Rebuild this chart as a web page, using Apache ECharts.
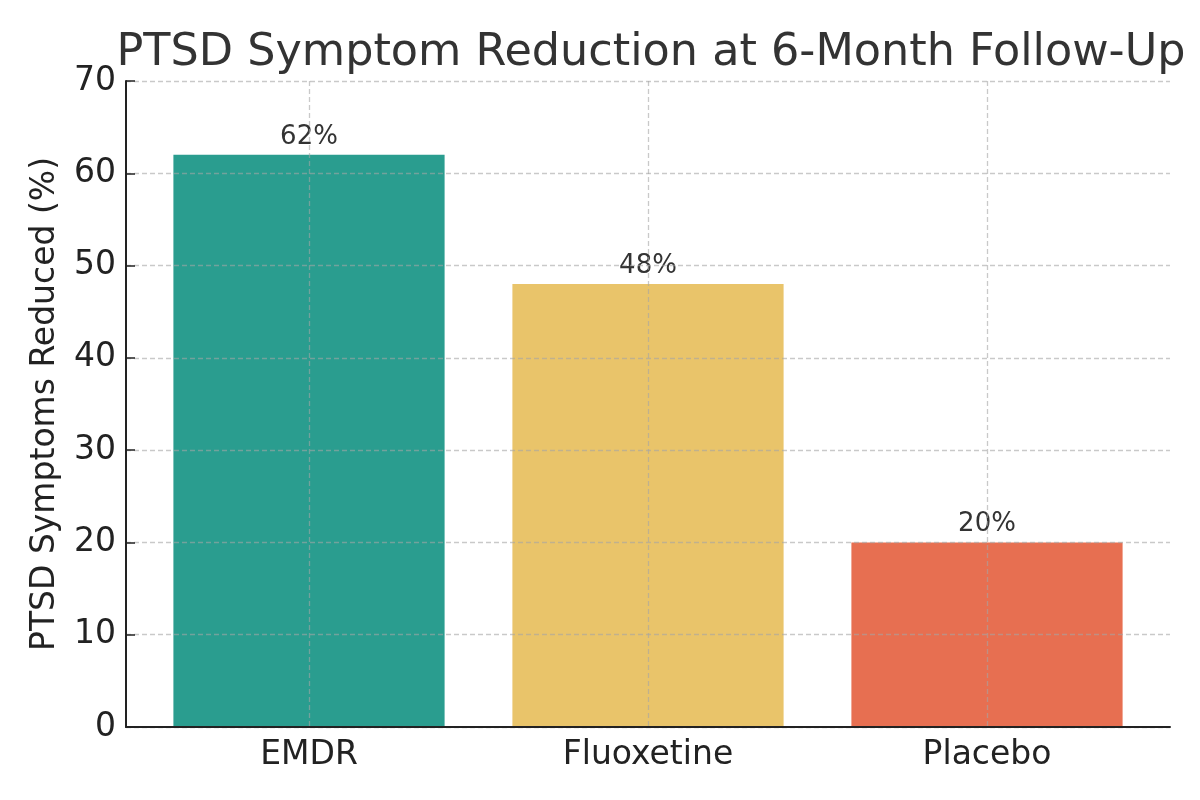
<!DOCTYPE html>
<html>
<head>
<meta charset="utf-8">
<script src="https://cdn.jsdelivr.net/npm/echarts@6/dist/echarts.min.js"></script>
<style>
  html, body { margin: 0; padding: 0; background: #fff; }
  #chart { width: 1200px; height: 800px; }
</style>
</head>
<body>
<div id="chart"></div>
<script>
const categories = ["EMDR", "Fluoxetine", "Placebo"];
const reduction = [62, 48, 20];
const yMin = 0;
const yMax = 70;
const yStep = 10;

const palette = ["#2a9d8f", "#e9c46a", "#e76f51"];
const gridLine = { color: "rgba(165,165,165,0.6)", width: 1.3, type: [5, 3] };
const font = "DejaVu Sans";

const chart = echarts.init(document.getElementById("chart"));

// grid 0 holds the spines (full plot box), grid 1 holds the bars with the
// matplotlib-like side margins around the outer bars
const option = {
  backgroundColor: "#fff",
  animation: false,
  title: {
    text: "PTSD Symptom Reduction at 6-Month Follow-Up",
    left: 646,
    top: 26,
    textAlign: "center",
    textStyle: { fontFamily: font, fontSize: 44.5, fontWeight: "normal", color: "#333" }
  },
  grid: [
    { left: 126, right: 30, top: 81, bottom: 73 },
    { left: 139.5, right: 43.5, top: 81, bottom: 73 }
  ],
  xAxis: [
    {
      type: "value",
      gridIndex: 0,
      min: 0,
      max: 1,
      z: 3,
      axisLine: { show: true, onZero: false, lineStyle: { color: "#222", width: 2 } },
      axisTick: { show: false },
      axisLabel: { show: false },
      splitLine: { show: false }
    },
    {
      type: "category",
      gridIndex: 1,
      data: categories,
      z: 3,
      axisLine: { show: false },
      axisTick: { alignWithLabel: true, inside: true, length: 10, lineStyle: { color: "#222", width: 1.5 } },
      axisLabel: { fontFamily: font, fontSize: 33, color: "#222", margin: 12 },
      splitLine: { show: true, alignWithLabel: true, lineStyle: gridLine }
    }
  ],
  yAxis: [
    {
      type: "value",
      gridIndex: 0,
      min: yMin,
      max: yMax,
      interval: yStep,
      z: 3,
      name: "PTSD Symptoms Reduced (%)",
      nameLocation: "middle",
      nameGap: 64,
      nameTextStyle: { fontFamily: font, fontSize: 33, color: "#222" },
      axisLine: { show: true, lineStyle: { color: "#222", width: 2 } },
      axisTick: { show: true, inside: true, length: 9, lineStyle: { color: "#222", width: 1.5 } },
      axisLabel: { fontFamily: font, fontSize: 33, color: "#222", margin: 10 },
      splitLine: { show: true, lineStyle: gridLine }
    },
    {
      type: "value",
      gridIndex: 1,
      min: yMin,
      max: yMax,
      interval: yStep,
      show: false
    }
  ],
  series: [
    {
      type: "bar",
      xAxisIndex: 1,
      yAxisIndex: 1,
      barCategoryGap: "20%",
      data: reduction.map((v, i) => ({ value: v, itemStyle: { color: palette[i] } })),
      label: {
        show: true,
        position: "top",
        distance: 5,
        formatter: "{c}%",
        fontFamily: font,
        fontSize: 26,
        color: "#333"
      }
    }
  ]
};

chart.setOption(option);
</script>
</body>
</html>
